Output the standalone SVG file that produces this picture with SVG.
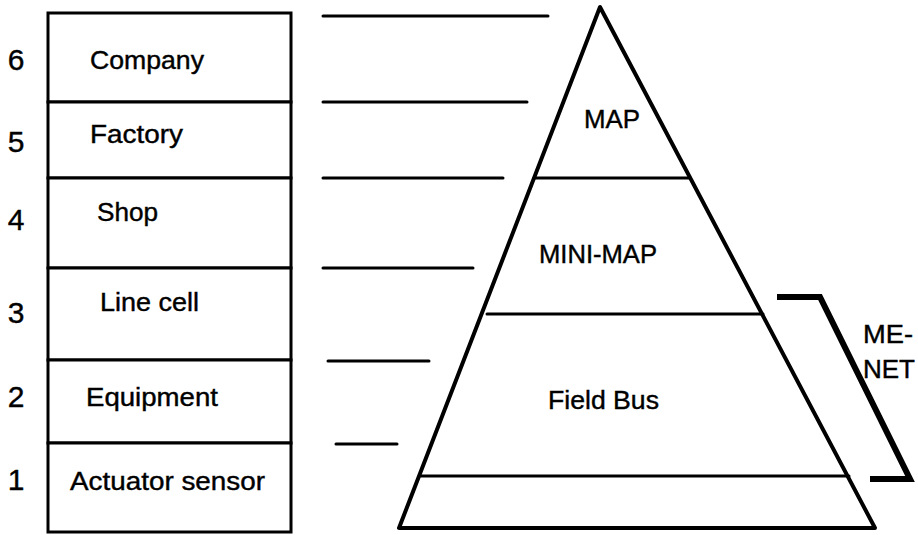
<svg xmlns="http://www.w3.org/2000/svg" width="918" height="535" viewBox="0 0 918 535">
  <style>
    .lbl { font-family: "Liberation Sans", Arial, Helvetica, sans-serif; font-size: 25px; fill: #000; stroke: #000; stroke-width: 0.4; }
    .num { font-family: "Liberation Sans", Arial, Helvetica, sans-serif; font-size: 30px; fill: #000; stroke: #000; stroke-width: 0.4; text-anchor: middle; }
    .box { fill: #fff; stroke: #000; stroke-width: 3; }
    .rule { stroke: #000; stroke-width: 3; fill: none; stroke-linecap: round; }
    .edge { stroke: #000; stroke-width: 4; fill: none; stroke-linejoin: round; stroke-linecap: round; }
  </style>
  <rect width="918" height="535" fill="#fff"/>

  <!-- Level table -->
  <g id="level-6">
    <rect class="box" x="48" y="13" width="243" height="89"/>
    <text class="num" x="16" y="70">6</text>
    <text class="lbl" x="90" y="69" textLength="114" lengthAdjust="spacingAndGlyphs">Company</text>
  </g>
  <g id="level-5">
    <rect class="box" x="48" y="102" width="243" height="76"/>
    <text class="num" x="16" y="152">5</text>
    <text class="lbl" x="90" y="143" textLength="93" lengthAdjust="spacingAndGlyphs">Factory</text>
  </g>
  <g id="level-4">
    <rect class="box" x="48" y="178" width="243" height="90"/>
    <text class="num" x="16" y="230">4</text>
    <text class="lbl" x="97" y="221" textLength="61" lengthAdjust="spacingAndGlyphs">Shop</text>
  </g>
  <g id="level-3">
    <rect class="box" x="48" y="268" width="243" height="92"/>
    <text class="num" x="16" y="323">3</text>
    <text class="lbl" x="100" y="311" textLength="99" lengthAdjust="spacingAndGlyphs">Line cell</text>
  </g>
  <g id="level-2">
    <rect class="box" x="48" y="360" width="243" height="83"/>
    <text class="num" x="16" y="407">2</text>
    <text class="lbl" x="86" y="406" textLength="132" lengthAdjust="spacingAndGlyphs">Equipment</text>
  </g>
  <g id="level-1">
    <rect class="box" x="48" y="443" width="243" height="89"/>
    <text class="num" x="16" y="490">1</text>
    <text class="lbl" x="70" y="490" textLength="195" lengthAdjust="spacingAndGlyphs">Actuator sensor</text>
  </g>

  <!-- Level guide lines -->
  <g id="connectors">
    <line class="rule" x1="323" y1="16" x2="548" y2="16"/>
    <line class="rule" x1="323" y1="102" x2="527" y2="102"/>
    <line class="rule" x1="323" y1="178" x2="503" y2="178"/>
    <line class="rule" x1="323" y1="268" x2="473" y2="268"/>
    <line class="rule" x1="328" y1="361" x2="429" y2="361"/>
    <line class="rule" x1="336" y1="444" x2="397" y2="444"/>
  </g>

  <!-- Network pyramid -->
  <g id="pyramid">
    <polygon class="edge" points="600,7 399,528 875,528"/>
    <line class="rule" x1="534" y1="178" x2="690" y2="178"/>
    <line class="rule" x1="487" y1="314" x2="763" y2="314"/>
    <line class="rule" x1="421" y1="476" x2="849" y2="476"/>
  </g>
  <g id="map">
    <text class="lbl" x="584" y="128" textLength="56" lengthAdjust="spacingAndGlyphs">MAP</text>
  </g>
  <g id="mini-map">
    <text class="lbl" x="539" y="263" textLength="118" lengthAdjust="spacingAndGlyphs">MINI-MAP</text>
  </g>
  <g id="field-bus">
    <text class="lbl" x="548" y="409" textLength="111" lengthAdjust="spacingAndGlyphs">Field Bus</text>
  </g>

  <!-- ME-NET bracket -->
  <g id="me-net">
    <polyline points="777,297 820,297 910,479 870,479" fill="none" stroke="#000" stroke-width="6" stroke-linejoin="miter"/>
    <text class="lbl" x="863" y="343" textLength="50" lengthAdjust="spacingAndGlyphs">ME-</text>
    <text class="lbl" x="863" y="378" textLength="52" lengthAdjust="spacingAndGlyphs">NET</text>
  </g>
</svg>
